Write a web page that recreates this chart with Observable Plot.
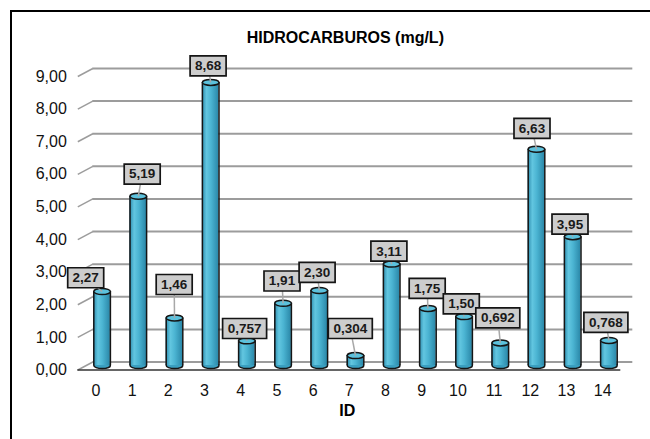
<!DOCTYPE html>
<html><head><meta charset="utf-8">
<script src="https://cdn.jsdelivr.net/npm/d3@7"></script>
<script src="https://cdn.jsdelivr.net/npm/@observablehq/plot@0.6"></script>
<style>
html,body{margin:0;padding:0;background:#fff;}
#wrap{position:relative;width:650px;height:439px;overflow:hidden;}
#chart svg{display:block;}
#border{position:absolute;left:10px;top:9.5px;width:700px;height:500px;border:2px solid #000;pointer-events:none;}
</style></head>
<body><div id="wrap"><div id="chart"></div><div id="border"></div></div>
<script>
// ---- data ----
const ids = [0, 1, 2, 3, 4, 5, 6, 7, 8, 9, 10, 11, 12, 13, 14];
const values = [2.27, 5.19, 1.46, 8.68, 0.757, 1.91, 2.30, 0.304, 3.11, 1.75, 1.50, 0.692, 6.63, 3.95, 0.768];
const yTicks = [0, 1, 2, 3, 4, 5, 6, 7, 8, 9];
const title = "HIDROCARBUROS (mg/L)";
const xTitle = "ID";

// ---- layout (pixel offsets of each value label from its bar top) ----
const labelDx = [-16.4, 3.9, -0.3, -2.6, -2.3, -1.1, -2.2, -5.2, -2.8, -0.7, -2.8, -2.5, -4.5, -2.7, -3];
const labelDy = [-13.7, -22.1, -33.4, -16.5, -12.3, -22.2, -18.2, -27.1, -12.9, -20, -12.8, -25.1, -21, -12.5, -18];

const W = 650, H = 439;
const mL = 77.3, mR = 29.7, mT = 76, mB = 69.5;
const kx = (W - mL - mR) / 15;   // px per x unit
const ky = (H - mT - mB) / 9;    // px per y unit
const barDx = 6.2, barDy = -4.5; // bar depth offset
const backDx = 15, backDy = -8;  // back wall offset
const rx = 8.3, ry = 3;          // cylinder radii

const fmt = v => d3.format(".3r")(v).replace(".", ",");
const data = ids.map((id, i) => {
  const v = values[i];
  const bx = id + barDx / kx, by = v - barDy / ky;
  return {
    id, v, label: fmt(v),
    bx, by,
    lx: id + (barDx + labelDx[i]) / kx,
    ly: v - (barDy + labelDy[i]) / ky
  };
});

const ellipse = (a, b) => ({draw(ctx) {
  const k = 0.5523, ox = a * k, oy = b * k;
  ctx.moveTo(-a, 0);
  ctx.bezierCurveTo(-a, -oy, -ox, -b, 0, -b);
  ctx.bezierCurveTo(ox, -b, a, -oy, a, 0);
  ctx.bezierCurveTo(a, oy, ox, b, 0, b);
  ctx.bezierCurveTo(-ox, b, -a, oy, -a, 0);
  ctx.closePath();
}});
const box = (w, h) => ({draw(ctx) {
  ctx.moveTo(-w / 2, -h / 2); ctx.lineTo(w / 2, -h / 2);
  ctx.lineTo(w / 2, h / 2); ctx.lineTo(-w / 2, h / 2); ctx.closePath();
}});

const font = "Liberation Sans, Arial, sans-serif";
const grid = "#9c9c9c";
const outline = "#151515";

const svg = Plot.plot({
  width: W, height: H,
  marginLeft: mL, marginRight: mR, marginTop: mT, marginBottom: mB,
  style: {fontFamily: font, color: "#111", background: "transparent"},
  x: {domain: [-0.5, 14.5]},
  y: {domain: [0, 9]},
  marks: [
    // back wall gridlines
    Plot.ruleY(yTicks, {y: d => d, x1: -0.5, x2: 14.5 - 3 / kx, dx: backDx, dy: backDy, stroke: grid, strokeWidth: 2}),
    // left depth diagonals
    Plot.link(yTicks, {x1: -0.5, y1: d => d, x2: -0.5 + backDx / kx, y2: d => d - backDy / ky, stroke: grid, strokeWidth: 1.5}),
    // front floor edge
    Plot.ruleY([0], {x1: -0.5, x2: 14.5, stroke: "#333", strokeWidth: 1.5}),
    // axes
    Plot.axisY({ticks: yTicks, tickFormat: d => d.toFixed(2).replace(".", ","), tickSize: 0, tickPadding: 11, fontSize: 16, label: null, fill: "#111"}),
    Plot.axisX({ticks: ids, tickFormat: d => String(d), tickSize: 0, tickPadding: 15, fontSize: 16, label: null, fill: "#111"}),
    // cylinder bottoms
    Plot.dot(data, {x: "bx", y: d => d.by - d.v, symbol: ellipse(rx, ry), r: 5, fill: "#3a9fc0", stroke: outline, strokeWidth: 1.5}),
    // cylinder bodies
    Plot.rect(data, {x1: d => d.id - rx / kx, x2: d => d.id + rx / kx, y1: 0, y2: "v", dx: barDx, dy: barDy, fill: "url(#cyl)"}),
    Plot.ruleX(data, {x: d => d.id - rx / kx, y1: 0, y2: "v", dx: barDx, dy: barDy, stroke: outline, strokeWidth: 1.5}),
    Plot.ruleX(data, {x: d => d.id + rx / kx, y1: 0, y2: "v", dx: barDx, dy: barDy, stroke: outline, strokeWidth: 1.5}),
    // cylinder tops
    Plot.dot(data, {x: "bx", y: "by", symbol: ellipse(rx, ry), r: 5, fill: "#5cc1dc", stroke: outline, strokeWidth: 1.5}),
    // leader lines
    Plot.link(data, {x1: "lx", y1: "ly", x2: "bx", y2: "by", stroke: "#a8a8a8", strokeWidth: 1.5}),
    // label boxes
    Plot.dot(data.filter(d => d.label.length <= 4), {x: "lx", y: "ly", symbol: box(36, 20), r: 5, fill: "#cdcdcd", stroke: outline, strokeWidth: 1.7}),
    Plot.dot(data.filter(d => d.label.length > 4), {x: "lx", y: "ly", symbol: box(44, 20), r: 5, fill: "#cdcdcd", stroke: outline, strokeWidth: 1.7}),
    Plot.text(data, {x: "lx", y: "ly", text: "label", fontSize: 13.5, fontWeight: "bold", fill: "#1a1a1a"}),
    // titles
    Plot.text([title], {frameAnchor: "top", lineAnchor: "middle", dy: 37 - mT, dx: -4, fontSize: 16, fontWeight: "bold", fill: "#000"}),
    Plot.text([xTitle], {frameAnchor: "bottom", lineAnchor: "middle", dy: 41, dx: -2, fontSize: 16, fontWeight: "bold", fill: "#000"})
  ]
});

const defs = d3.select(svg).insert("defs", ":first-child");
const lg = defs.append("linearGradient").attr("id", "cyl").attr("x1", 0).attr("x2", 1).attr("y1", 0).attr("y2", 0);
[[0, "#2b8aac"], [0.28, "#62c6e0"], [0.55, "#4bb4d2"], [1, "#2a87a8"]].forEach(([o, c]) =>
  lg.append("stop").attr("offset", o).attr("stop-color", c));

document.getElementById("chart").appendChild(svg);
</script>
</body></html>
